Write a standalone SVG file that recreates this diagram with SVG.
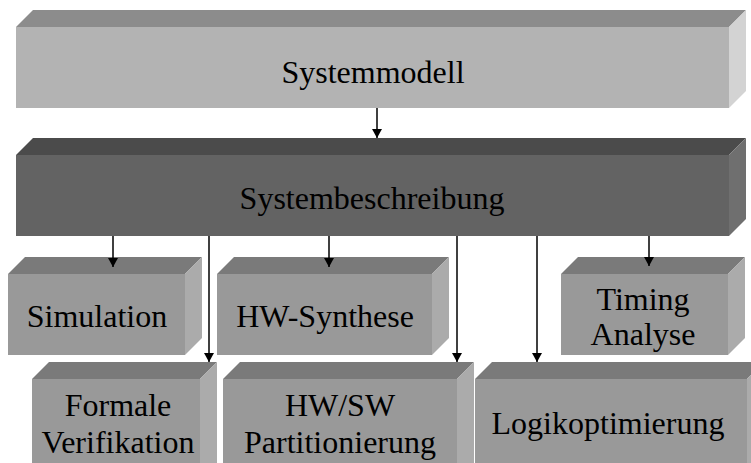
<svg xmlns="http://www.w3.org/2000/svg" width="751" height="463" viewBox="0 0 751 463">
<defs>
<style>
text{font-family:"Liberation Serif","Times New Roman",serif;font-size:32px;fill:#000;text-anchor:middle}
.a1 .t{fill:#8c8c8c}.a1 .f{fill:#b3b3b3}.a1 .r{fill:#d3d3d3}
.a2 .t{fill:#4b4b4b}.a2 .f{fill:#636363}.a2 .r{fill:#6f6f6f}
.a3 .t{fill:#7a7a7a}.a3 .f{fill:#999999}.a3 .r{fill:#ababab}
.c line{stroke:#000;stroke-width:1.5;marker-end:url(#ah)}
</style>
<marker id="ah" viewBox="0 0 9 10" refX="9" refY="5" markerWidth="9" markerHeight="10" markerUnits="userSpaceOnUse" orient="auto">
<path d="M0,0 L9,5 L0,10 Z" fill="#000"/>
</marker>
</defs>
<g id="systemmodell" class="a1">
<polygon class="t" points="16,27 33,10 746,10 729,27"/>
<polygon class="r" points="729,27 746,10 746,91 729,108"/>
<rect class="f" x="16" y="27" width="713" height="81"/>
<text x="373" y="83">Systemmodell</text>
</g>
<g id="systembeschreibung" class="a2">
<polygon class="t" points="16,155 33,138 746,138 729,155"/>
<polygon class="r" points="729,155 746,138 746,219 729,236"/>
<rect class="f" x="16" y="155" width="713" height="81"/>
<text x="372" y="209">Systembeschreibung</text>
</g>
<g id="simulation" class="a3">
<polygon class="t" points="8,274 25,257 202,257 185,274"/>
<polygon class="r" points="185,274 202,257 202,338 185,355"/>
<rect class="f" x="8" y="274" width="177" height="81"/>
<text x="97" y="327">Simulation</text>
</g>
<g id="hw-synthese" class="a3">
<polygon class="t" points="217,274 234,257 449,257 432,274"/>
<polygon class="r" points="432,274 449,257 449,338 432,355"/>
<rect class="f" x="217" y="274" width="215" height="81"/>
<text x="325" y="327">HW-Synthese</text>
</g>
<g id="timing-analyse" class="a3">
<polygon class="t" points="561,274 578,257 745,257 728,274"/>
<polygon class="r" points="728,274 745,257 745,338 728,355"/>
<rect class="f" x="561" y="274" width="167" height="81"/>
<text x="643" y="310">Timing</text>
<text x="643" y="345">Analyse</text>
</g>
<g id="formale-verifikation" class="a3">
<polygon class="t" points="32,379 49,362 217,362 200,379"/>
<polygon class="r" points="200,379 217,362 217,470 200,480"/>
<rect class="f" x="32" y="379" width="168" height="100"/>
<text x="118" y="416">Formale</text>
<text x="118" y="453">Verifikation</text>
</g>
<g id="hw-sw-partitionierung" class="a3">
<polygon class="t" points="223,379 240,362 474,362 457,379"/>
<polygon class="r" points="457,379 474,362 474,470 457,480"/>
<rect class="f" x="223" y="379" width="234" height="100"/>
<text x="340" y="416">HW/SW</text>
<text x="340" y="453">Partitionierung</text>
</g>
<g id="logikoptimierung" class="a3">
<polygon class="t" points="475,379 492,362 764,362 747,379"/>
<polygon class="r" points="747,379 764,362 764,470 747,480"/>
<rect class="f" x="475" y="379" width="272" height="100"/>
<text x="608" y="434">Logikoptimierung</text>
</g>
<g id="connectors" class="c">
<line x1="377" y1="108" x2="377" y2="138"/>
<line x1="113" y1="236" x2="113" y2="267"/>
<line x1="209" y1="236" x2="209" y2="362"/>
<line x1="329" y1="236" x2="329" y2="267"/>
<line x1="457" y1="236" x2="457" y2="362"/>
<line x1="537" y1="236" x2="537" y2="362"/>
<line x1="649" y1="236" x2="649" y2="266"/>
</g>
</svg>
